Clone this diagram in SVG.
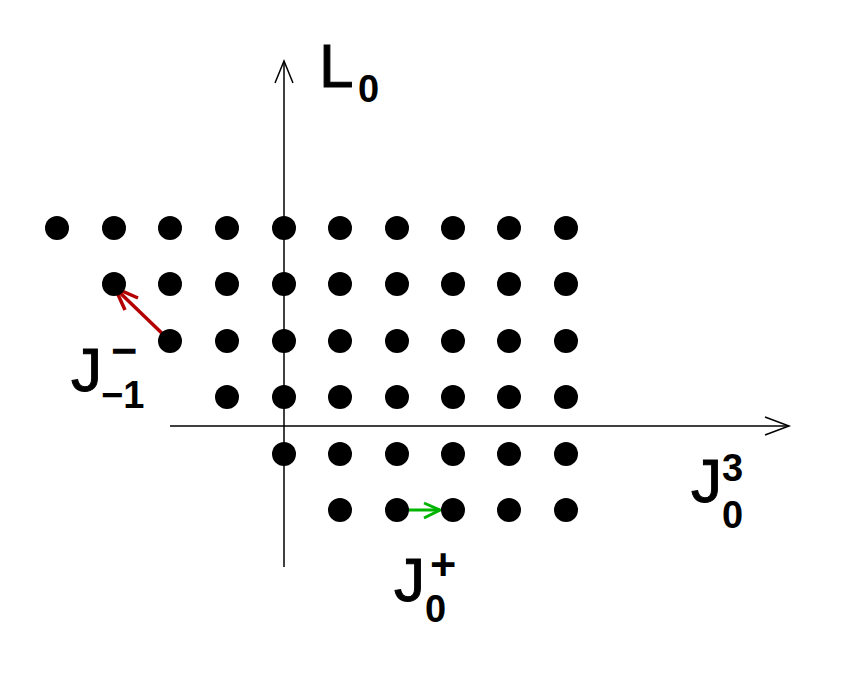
<svg xmlns="http://www.w3.org/2000/svg" width="850" height="681" viewBox="0 0 850 681">
<style>
.dot{fill:#000}
.axis{stroke:#000;stroke-width:1.5;fill:none}
.lbl{font-family:"Liberation Sans",Arial,sans-serif;font-weight:bold;fill:#000}
.big{font-size:62px;font-weight:normal;stroke:#000;stroke-width:1}
.sm{font-size:38px}
.op{font-size:45px}
</style>
<rect width="850" height="681" fill="#fff"/>
<g id="connectors">
<line class="axis" x1="284" y1="567" x2="284" y2="61"/>
<polyline class="axis" points="275,83 284,61 293,83"/>
<line class="axis" x1="170" y1="426" x2="789" y2="426"/>
<polyline class="axis" points="765,417 789,426 765,435"/>
<g stroke="#b40000" stroke-width="3.5" fill="none">
<line x1="170" y1="341" x2="115" y2="288"/>
<polyline points="138,298 115,288 125,310"/>
</g>
<g stroke="#00b400" stroke-width="3" fill="none">
<line x1="397" y1="510" x2="440" y2="510"/>
<polyline points="424,503 440,510 424,518"/>
</g>
</g>
<g id="lattice">
<g id="row1">
<circle class="dot" cx="57" cy="228" r="12"/><circle class="dot" cx="114" cy="228" r="12"/><circle class="dot" cx="170" cy="228" r="12"/><circle class="dot" cx="227" cy="228" r="12"/><circle class="dot" cx="284" cy="228" r="12"/><circle class="dot" cx="340" cy="228" r="12"/><circle class="dot" cx="397" cy="228" r="12"/><circle class="dot" cx="453" cy="228" r="12"/><circle class="dot" cx="509" cy="228" r="12"/><circle class="dot" cx="566" cy="228" r="12"/>
</g>
<g id="row2">
<circle class="dot" cx="114" cy="284" r="12"/><circle class="dot" cx="170" cy="284" r="12"/><circle class="dot" cx="227" cy="284" r="12"/><circle class="dot" cx="284" cy="284" r="12"/><circle class="dot" cx="340" cy="284" r="12"/><circle class="dot" cx="397" cy="284" r="12"/><circle class="dot" cx="453" cy="284" r="12"/><circle class="dot" cx="509" cy="284" r="12"/><circle class="dot" cx="566" cy="284" r="12"/>
</g>
<g id="row3">
<circle class="dot" cx="170" cy="341" r="12"/><circle class="dot" cx="227" cy="341" r="12"/><circle class="dot" cx="284" cy="341" r="12"/><circle class="dot" cx="340" cy="341" r="12"/><circle class="dot" cx="397" cy="341" r="12"/><circle class="dot" cx="453" cy="341" r="12"/><circle class="dot" cx="509" cy="341" r="12"/><circle class="dot" cx="566" cy="341" r="12"/>
</g>
<g id="row4">
<circle class="dot" cx="227" cy="397" r="12"/><circle class="dot" cx="284" cy="397" r="12"/><circle class="dot" cx="340" cy="397" r="12"/><circle class="dot" cx="397" cy="397" r="12"/><circle class="dot" cx="453" cy="397" r="12"/><circle class="dot" cx="509" cy="397" r="12"/><circle class="dot" cx="566" cy="397" r="12"/>
</g>
<g id="row5">
<circle class="dot" cx="284" cy="454" r="12"/><circle class="dot" cx="340" cy="454" r="12"/><circle class="dot" cx="397" cy="454" r="12"/><circle class="dot" cx="453" cy="454" r="12"/><circle class="dot" cx="509" cy="454" r="12"/><circle class="dot" cx="566" cy="454" r="12"/>
</g>
<g id="row6">
<circle class="dot" cx="340" cy="510" r="12"/><circle class="dot" cx="397" cy="510" r="12"/><circle class="dot" cx="453" cy="510" r="12"/><circle class="dot" cx="509" cy="510" r="12"/><circle class="dot" cx="566" cy="510" r="12"/>
</g>
</g>
<g id="label-L0">
<text class="lbl big" x="319" y="87">L</text>
<text class="lbl sm" x="358" y="102">0</text>
</g>
<g id="label-Jminus">
<text class="lbl big" x="71" y="391">J</text>
<text class="lbl op" x="111" y="366">−</text>
<text class="lbl sm" x="101" y="408">−1</text>
</g>
<g id="label-J3">
<text class="lbl big" x="691" y="502">J</text>
<text class="lbl sm" x="722" y="481">3</text>
<text class="lbl sm" x="722" y="528">0</text>
</g>
<g id="label-Jplus">
<text class="lbl big" x="394" y="601">J</text>
<text class="lbl op" x="430" y="580">+</text>
<text class="lbl sm" x="425" y="622">0</text>
</g>
</svg>
